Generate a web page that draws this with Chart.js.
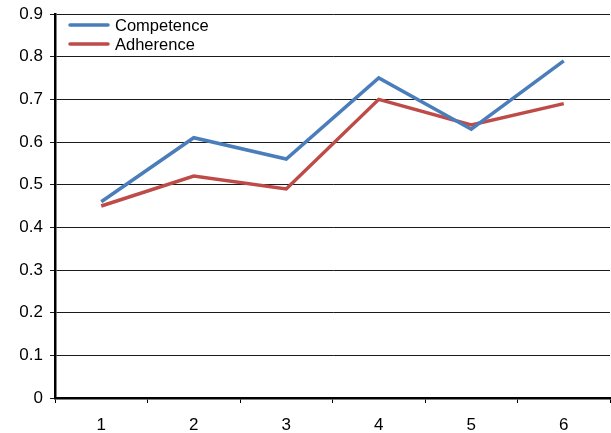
<!DOCTYPE html>
<html>
<head>
<meta charset="utf-8">
<script src="https://cdn.jsdelivr.net/npm/chart.js@4/dist/chart.umd.min.js"></script>
<style>
html,body{margin:0;padding:0;background:#fff;}
#wrap{width:611px;height:433px;position:relative;}
</style>
</head>
<body>
<div id="wrap"><canvas id="c" width="611" height="433"></canvas></div>
<script>
const categories = ['1','2','3','4','5','6'];
const competence = [0.46, 0.61, 0.56, 0.75, 0.63, 0.79];
const adherence = [0.45, 0.52, 0.49, 0.70, 0.64, 0.69];
const seriesNames = ['Competence','Adherence'];
const seriesColors = ['#4A7EBB','#BE4B48'];
const FONT = '"Liberation Sans", Arial, sans-serif';

const insideLegend = {
  id:'insideLegend',
  afterDatasetsDraw(chart){
    const ctx = chart.ctx;
    const area = chart.chartArea;
    ctx.save();
    ctx.font = '16.5px ' + FONT;
    ctx.textBaseline = 'middle';
    chart.data.datasets.forEach((ds,i)=>{
      const y = area.top + 11 + i*19;
      const x0 = area.left + 15;
      ctx.strokeStyle = ds.borderColor;
      ctx.lineWidth = 3.5;
      ctx.lineCap = 'round';
      ctx.beginPath(); ctx.moveTo(x0, y); ctx.lineTo(x0+38, y); ctx.stroke();
      ctx.fillStyle = '#000';
      ctx.fillText(ds.label, x0+45, y+1);
    });
    ctx.restore();
  }
};

new Chart(document.getElementById('c'), {
  type:'line',
  data:{
    labels: categories,
    datasets:[
      {label:seriesNames[0], data:competence, borderColor:seriesColors[0], backgroundColor:seriesColors[0], borderWidth:3.5, pointRadius:0, tension:0, fill:false},
      {label:seriesNames[1], data:adherence, borderColor:seriesColors[1], backgroundColor:seriesColors[1], borderWidth:3.5, pointRadius:0, tension:0, fill:false}
    ]
  },
  options:{
    responsive:false,
    animation:false,
    events:[],
    layout:{padding:{top:14,right:1,left:0,bottom:0}},
    plugins:{legend:{display:false}, tooltip:{enabled:false}},
    scales:{
      x:{
        offset:true,
        grid:{offset:true, drawOnChartArea:false, drawTicks:true, tickLength:5, color:'#000', lineWidth:1},
        border:{color:'#000', width:2.5},
        ticks:{color:'#000', font:{family:FONT, size:17}, padding:12, maxRotation:0},
        afterFit(s){ s.height = 35; s.paddingLeft = 0; s.paddingRight = 0; }
      },
      y:{
        min:0, max:0.9,
        ticks:{stepSize:0.1, color:'#000', font:{family:FONT, size:17}, padding:7,
          callback:(v)=> (Math.round(v*10)/10).toString()},
        grid:{color:'#1a1a1a', lineWidth:1, tickLength:5, drawTicks:true},
        border:{color:'#000', width:2.5},
        afterFit(s){ s.width = 55; s.paddingTop = 0; s.paddingBottom = 0; }
      }
    }
  },
  plugins:[insideLegend]
});
</script>
</body>
</html>
